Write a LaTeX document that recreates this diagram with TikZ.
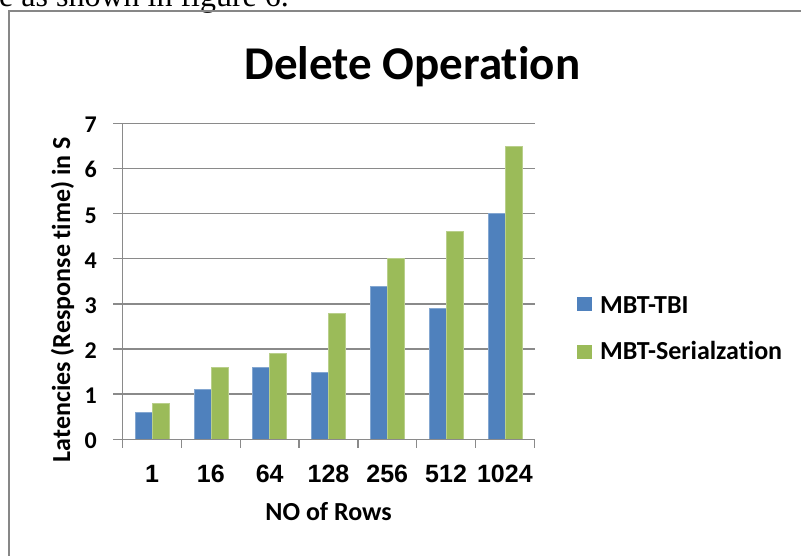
\documentclass[tikz,border=0pt]{standalone}
\usepackage{fontspec}
\setmainfont{Liberation Serif}
\newfontfamily\calbold{Carlito}[BoldFont=* Bold, Ligatures=NoCommon]
\newfontfamily\arialfam{Liberation Sans}
\definecolor{serA}{HTML}{4F81BD}
\definecolor{serB}{HTML}{9BBB59}
\definecolor{gridgray}{HTML}{8A8A8A}
\definecolor{framegray}{HTML}{878787}
\tikzset{
  gridline/.style={draw=gridgray, line width=1.5pt},
  barA/.style={fill=serA, draw=serA!70!white, line width=0.5pt},
  barB/.style={fill=serB, draw=serB!70!white, line width=0.5pt},
  ticklab/.style={inner sep=0pt, font=\calbold\bfseries\fontsize{24}{26}\selectfont},
  catlab/.style={inner sep=0pt, anchor=base, font=\arialfam\bfseries\fontsize{25}{27}\selectfont},
  axtitle/.style={inner sep=0pt, anchor=base, font=\calbold\bfseries\fontsize{26}{28}\selectfont},
  legtext/.style={inner sep=0pt, anchor=base west, font=\calbold\bfseries\fontsize{26}{28}\selectfont},
}
\begin{document}
\begin{tikzpicture}[x=1pt, y=-1pt]
  \useasboundingbox (0,0) rectangle (801,556);
  \begin{scope}
    \clip (0,0) rectangle (801,556);
    % running text line above the chart
    \node[inner sep=0pt, anchor=base west, font=\fontsize{32}{34}\selectfont] (runtext) at (-1,6.5) {e as shown in figure 6.};
    % chart frame
    \draw[framegray, line width=1.5pt] (9,560) -- (9,11) -- (805,11);
  \end{scope}

  % title
  \node[inner sep=0pt, anchor=base, font=\calbold\bfseries\fontsize{47}{50}\selectfont] (title) at (412.5,80) {Delete Operation};

  % horizontal grid lines with value ticks and labels
  \foreach \v in {0,...,7} {
    \pgfmathsetmacro{\yy}{439.3-45.14*\v}
    \draw[gridline] (113,\yy) -- (535,\yy);
    \node[ticklab, anchor=base east] (ytick\v) at (97,\yy+9.5) {\v};
  }
  % value axis
  \draw[gridline] (122.7,439.3) -- (122.7,123.3);
  % category ticks
  \foreach \k in {0,...,7} {
    \draw[gridline] (122.7+58.8*\k,439.3) -- (122.7+58.8*\k,448);
  }

  % bars: category, MBT-TBI, MBT-Serialzation
  \foreach \i/\lab/\a/\b in {0/1/0.6/0.8, 1/16/1.1/1.6, 2/64/1.6/1.9, 3/128/1.48/2.8, 4/256/3.4/4.0, 5/512/2.9/4.6, 6/1024/5.0/6.5} {
    \pgfmathsetmacro{\cx}{122.7+58.8*(\i+0.5)}
    \fill[barA] (\cx-17,439.3) rectangle (\cx,439.3-45.14*\a);
    \fill[barB] (\cx,439.3) rectangle (\cx+17,439.3-45.14*\b);
    \node[catlab] (cat\i) at (\cx,482) {\lab};
  }
  \draw[gridline] (113,439.3) -- (535,439.3);

  % axis titles
  \node[axtitle] (xtitle) at (328.6,520.7) {NO of Rows};
  \node[axtitle, rotate=90] (ytitle) at (70,299.5) {Latencies (Response time) in S};

  % legend
  \fill[serA] (577.3,297.3) rectangle (592.3,310.7);
  \node[legtext] (legA) at (600,313.3) {MBT-TBI};
  \fill[serB] (577.3,344.5) rectangle (592.3,358.5);
  \node[legtext] (legB) at (600,359.3) {MBT-Serialzation};
\end{tikzpicture}
\end{document}
